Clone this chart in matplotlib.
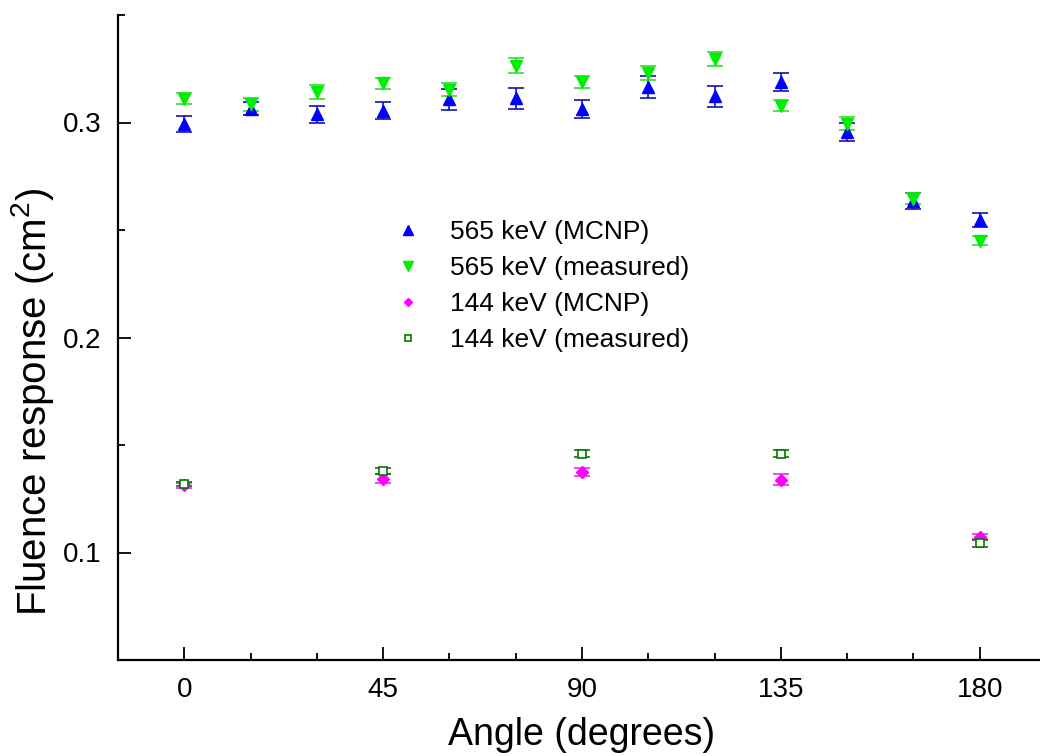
import matplotlib.pyplot as plt
import numpy as np

plt.rcParams['font.family'] = ['Liberation Sans', 'DejaVu Sans']
plt.rcParams['mathtext.fontset'] = 'custom'
plt.rcParams['mathtext.rm'] = 'Liberation Sans'

# 565 keV data, every 15 degrees
ang_565 = [0, 15, 30, 45, 60, 75, 90, 105, 120, 135, 150, 165, 180]
mcnp_565 = [0.2995, 0.3064, 0.3039, 0.3054, 0.3107, 0.3113, 0.3063, 0.3165, 0.3122, 0.3188, 0.2957, 0.2633, 0.2546]
mcnp_565_err = [0.0037, 0.0031, 0.0040, 0.0040, 0.0050, 0.0049, 0.0041, 0.0050, 0.0050, 0.0043, 0.0041, 0.0037, 0.0031]
meas_565 = [0.3111, 0.3084, 0.3142, 0.3182, 0.3153, 0.3264, 0.3188, 0.3231, 0.3295, 0.3078, 0.2995, 0.2646, 0.2451]
meas_565_err = [0.0027, 0.0031, 0.0032, 0.0026, 0.0031, 0.0035, 0.0027, 0.0031, 0.0033, 0.0026, 0.0031, 0.0027, 0.0023]

# 144 keV data
ang_144 = [0, 45, 90, 135, 180]
mcnp_144 = [0.1313, 0.1344, 0.1374, 0.1339, 0.1074]
mcnp_144_err = [0.0012, 0.0020, 0.0020, 0.0027, 0.0012]
meas_144 = [0.1320, 0.1380, 0.1460, 0.1460, 0.1043]
meas_144_err = [0.0010, 0.0014, 0.0015, 0.0015, 0.0017]

fig = plt.figure(figsize=(10.4, 7.56), dpi=100)
ax = fig.add_axes([118/1040, 96/756, 928/1040, 645/756])

ax.errorbar(ang_565, mcnp_565, yerr=mcnp_565_err, fmt='^', color='#0000ff', ecolor='#1010c0',
            ms=9, elinewidth=1.2, capsize=6, capthick=1.2, label='565 keV (MCNP)')
ax.errorbar(ang_565, meas_565, yerr=meas_565_err, fmt='v', color='#00ee00', ecolor='#30e030',
            ms=9, elinewidth=1.2, capsize=6, capthick=1.2, label='565 keV (measured)')
ax.errorbar(ang_144, mcnp_144, yerr=mcnp_144_err, fmt='D', color='#ff00ff', ecolor='#e030e0',
            ms=6, elinewidth=1.2, capsize=6, capthick=1.2, label='144 keV (MCNP)')
ax.errorbar(ang_144, meas_144, yerr=meas_144_err, fmt='s', color='#007a00', mfc='white',
            mec='#007a00', ecolor='#107010', ms=6, mew=1.2, elinewidth=1.2, capsize=6,
            capthick=1.2, label='144 keV (measured)')

ax.set_xlim(-15, 195)
ax.set_ylim(0.05, 0.35)
ax.set_xticks([0, 45, 90, 135, 180])
ax.set_xticks(np.arange(15, 180, 15), minor=True)
ax.set_yticks([0.1, 0.2, 0.3])
ax.set_yticks([0.15, 0.25, 0.35], minor=True)

ax.spines['top'].set_visible(False)
ax.spines['right'].set_visible(False)
for s in ['left', 'bottom']:
    ax.spines[s].set_linewidth(1.6)

ax.tick_params(which='major', direction='in', length=9.5, width=1.3, labelsize=20, pad=12)
ax.tick_params(which='minor', direction='in', length=5, width=1.3)

ax.set_xlabel('Angle (degrees)', fontsize=27, labelpad=10)
ax.set_ylabel('Fluence response (cm$\\mathregular{^2}$)', fontsize=29)
ax.yaxis.set_label_coords(-0.067, 0.40)

handles, labels = ax.get_legend_handles_labels()
handles = [h[0] for h in handles]
leg = ax.legend(handles, labels, loc='upper left', bbox_to_anchor=(371/1040, 1 - 196/756),
                bbox_transform=fig.transFigure, frameon=False, fontsize=19,
                markerscale=0.75, handletextpad=1.09, labelspacing=0.46, handlelength=1.0)

plt.savefig('out.png', dpi=100)
